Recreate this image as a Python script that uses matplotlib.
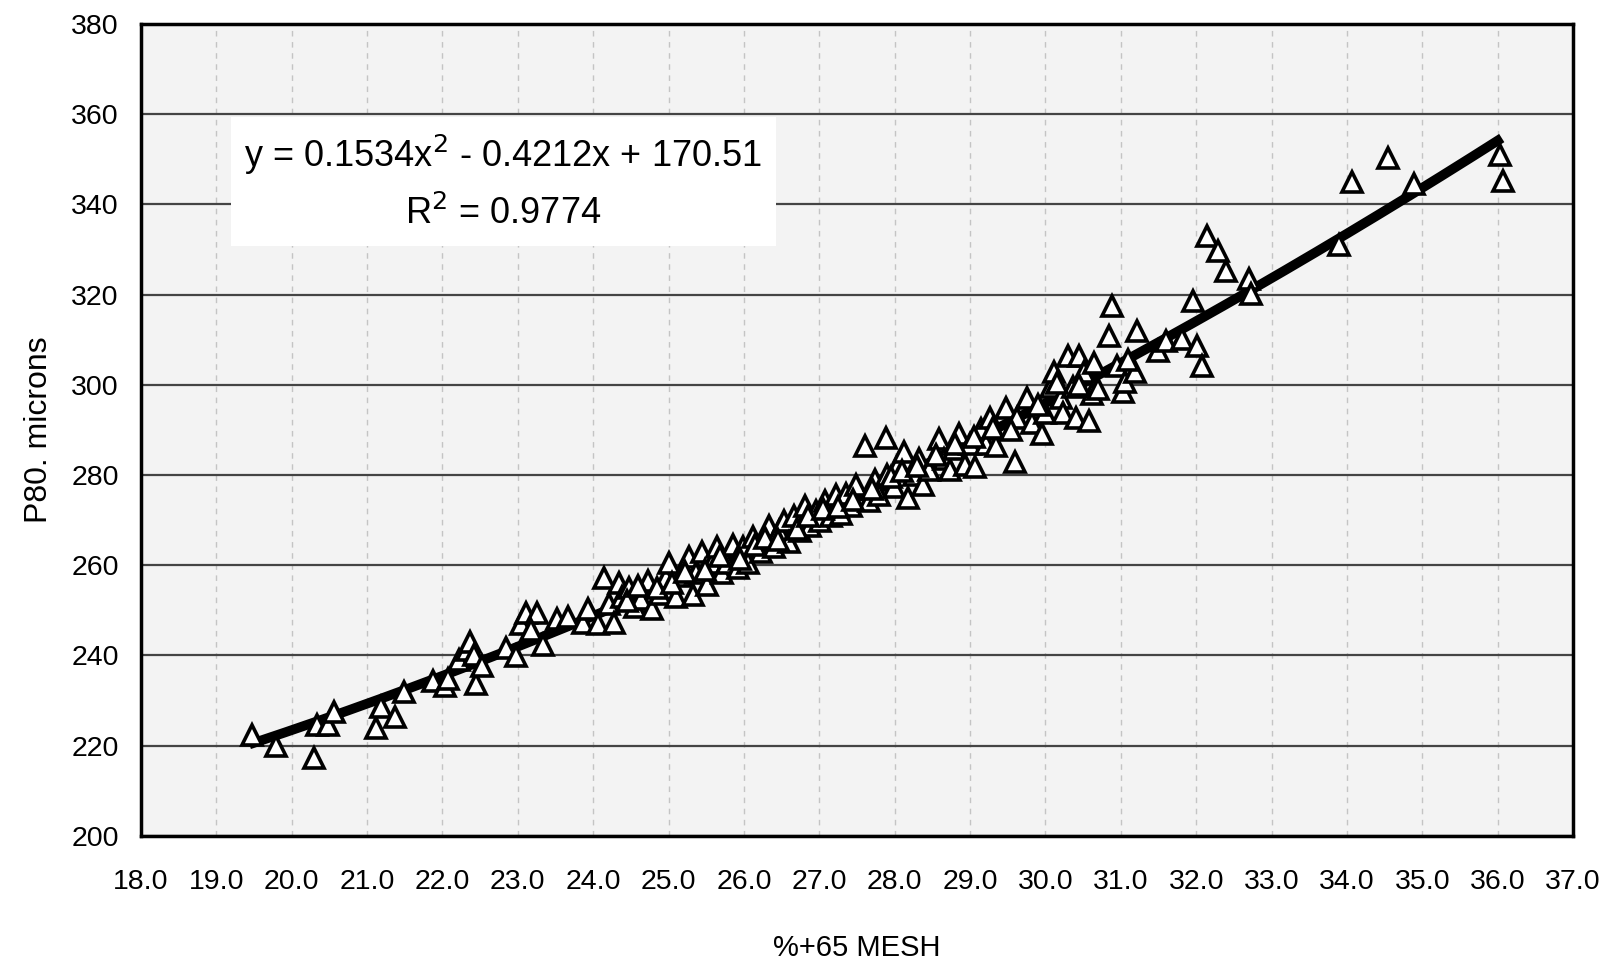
import numpy as np
import matplotlib.pyplot as plt

plt.rcParams['font.family'] = ['Liberation Sans', 'DejaVu Sans']

# % +65 mesh vs P80 (microns)
mesh = [19.47, 19.79, 20.29, 20.33, 20.48, 20.56, 21.12, 21.19, 21.37, 21.49,
        21.88, 22.04, 22.08, 22.22, 22.32, 22.37, 22.42, 22.45, 22.53, 22.84,
        22.97, 23.04, 23.11, 23.25, 23.18, 23.34, 23.52, 23.66, 23.86, 23.93,
        24.07, 24.14, 24.21, 24.27, 24.34, 24.38, 24.48, 24.55, 24.64, 24.73,
        24.78, 24.89, 24.96, 25.00, 25.10, 25.16, 25.27, 25.33, 25.37, 25.44,
        25.51, 25.58, 25.64, 25.71, 25.78, 25.85, 25.92, 25.99, 26.05, 26.12,
        26.23, 26.33, 26.40, 26.47, 26.53, 26.60, 26.67, 26.74, 26.81, 26.88,
        26.95, 27.01, 27.08, 27.15, 27.22, 27.29, 27.36, 27.42, 27.49, 27.60,
        27.66, 27.74, 27.79, 27.88, 27.90, 27.99, 28.04, 28.12, 28.18, 28.25,
        28.32, 28.38, 28.45, 28.59, 28.66, 28.73, 28.79, 28.86, 28.93, 29.00,
        29.07, 29.14, 29.21, 29.27, 29.34, 29.48, 29.59, 29.62, 29.75, 29.82,
        29.96, 29.99, 30.07, 30.12, 30.21, 30.23, 30.30, 30.37, 30.41, 30.44,
        30.51, 30.58, 30.62, 30.64, 30.85, 30.89, 30.95, 31.03, 31.05, 31.19,
        31.22, 31.49, 31.60, 31.81, 31.96, 32.01, 32.08, 32.15, 32.29, 32.40,
        32.70, 32.73, 33.90, 34.07, 34.55, 34.89, 36.03, 36.07,
        # extra points in the dense band
        24.45, 24.60, 24.85, 25.05, 25.22, 25.48, 25.68, 25.95, 26.15, 26.28,
        26.45, 26.70, 26.85, 27.05, 27.25, 27.45, 27.70, 27.95, 28.10, 28.30,
        28.55, 28.80, 29.05, 29.30, 29.55, 29.90, 30.15, 30.45, 30.70, 31.10]
p80 = [222.4, 219.9, 217.2, 224.5, 224.5, 227.4, 224.0, 228.6, 226.3, 232.0,
       234.3, 233.2, 234.8, 238.9, 241.2, 243.0, 240.0, 233.6, 237.7, 241.6,
       239.8, 246.9, 249.4, 249.4, 245.7, 242.3, 248.0, 248.5, 247.3, 250.3,
       246.9, 257.2, 251.5, 247.3, 256.0, 253.0, 254.9, 250.8, 252.6, 256.5,
       250.3, 253.7, 257.2, 260.6, 253.0, 257.6, 261.8, 253.3, 258.3, 262.9,
       255.6, 260.6, 264.0, 258.3, 260.6, 264.5, 259.5, 264.0, 260.6, 266.3,
       262.9, 268.6, 264.0, 267.5, 269.8, 265.2, 270.9, 267.5, 273.2, 268.6,
       272.1, 269.8, 274.3, 270.9, 275.5, 271.4, 275.9, 273.2, 277.8, 286.5,
       274.3, 278.9, 275.5, 288.2, 280.0, 277.3, 282.3, 285.1, 275.0, 280.0,
       283.5, 277.8, 281.2, 288.1, 283.5, 281.2, 285.8, 289.2, 282.3, 286.9,
       281.9, 290.3, 286.9, 292.6, 286.5, 294.9, 282.8, 292.6, 297.2, 291.5,
       289.2, 293.8, 299.5, 302.9, 297.2, 293.8, 306.4, 299.5, 292.6, 306.4,
       302.9, 291.9, 297.9, 304.9, 310.9, 317.6, 304.1, 298.4, 300.6, 302.9,
       312.0, 307.5, 309.8, 310.2, 318.5, 308.6, 304.1, 333.1, 329.7, 325.3,
       323.5, 320.1, 331.1, 345.0, 350.3, 344.6, 351.0, 345.2,
       252.0, 255.5, 255.0, 256.0, 258.5, 259.0, 262.0, 261.5, 264.5, 266.0,
       265.5, 268.0, 271.0, 272.5, 273.0, 274.5, 277.0, 279.5, 281.0, 282.0,
       284.5, 287.0, 288.5, 290.5, 290.0, 295.5, 300.5, 300.0, 299.0, 305.5]

# Excel polynomial trendline shown on the chart
coef = [0.1534, -0.4212, 170.51]
r2 = 0.9774

fig = plt.figure(figsize=(16.18, 9.63), dpi=100)
ax = fig.add_axes([0.0871, 0.132, 0.8851, 0.843])
ax.set_facecolor('#f3f3f3')

xf = np.linspace(19.5, 36.0, 200)
ax.plot(xf, np.polyval(coef, xf), color='black', lw=7, zorder=3)
ax.plot(mesh, p80, linestyle='none', marker='^', markersize=14,
        markerfacecolor='white', markeredgecolor='black', markeredgewidth=2.6,
        zorder=4)

ax.set_xlim(18, 37)
ax.set_ylim(200, 380)
ax.set_xticks(np.arange(18, 37.5, 1.0))
ax.set_xticklabels([f'{v:.1f}' for v in np.arange(18, 37.5, 1.0)])
ax.set_yticks(np.arange(200, 381, 20))
ax.tick_params(length=0, labelsize=20.5, pad=16)
ax.tick_params(axis='x', pad=24)

# horizontal grid dark, vertical grid faint dashed
ax.yaxis.grid(True, color='#444444', lw=1.6)
ax.xaxis.grid(True, color='#c4c4c4', lw=1.0, linestyle=(0, (4, 4)))
ax.set_axisbelow(True)
for s in ax.spines.values():
    s.set_linewidth(2.5)
    s.set_color('black')

ax.text(0.253, 0.805, f'y = {coef[0]:.4f}x$^2$ - {abs(coef[1]):.4f}x + {coef[2]:.2f}\nR$^2$ = {r2:.4f}',
        transform=ax.transAxes, ha='center', va='center', fontsize=26,
        linespacing=1.7, zorder=5,
        bbox=dict(facecolor='white', edgecolor='none', pad=10))

ax.set_xlabel('%+65 MESH', fontsize=21, labelpad=28)
ax.set_ylabel('P80. microns', fontsize=23, labelpad=12)

fig.savefig('out.png', dpi=100)
